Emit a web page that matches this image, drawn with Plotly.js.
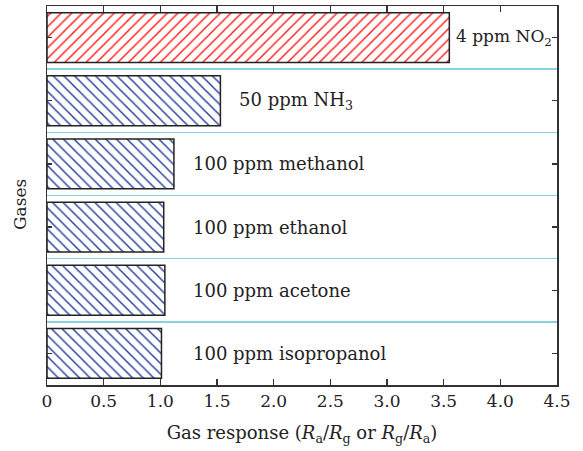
<!DOCTYPE html>
<html>
<head>
<meta charset="utf-8">
<script src="https://cdn.plot.ly/plotly-3.0.1.min.js"></script>
<style>html,body{margin:0;padding:0;background:#fff;}#chart{width:583px;height:451px;}</style>
</head>
<body>
<div id="chart"></div>
<script>
// Data (top to bottom)
const gases = ["NO2", "NH3", "methanol", "ethanol", "acetone", "isopropanol"];
const labels = ["4 ppm NO<sub>2</sub>", "50 ppm NH<sub>3</sub>", "100 ppm methanol", "100 ppm ethanol", "100 ppm acetone", "100 ppm isopropanol"];
const response = [3.55, 1.53, 1.12, 1.03, 1.04, 1.01];
const xTickVals = [0, 0.5, 1, 1.5, 2, 2.5, 3, 3.5, 4, 4.5];
const xTickText = ["0", "0.5", "1.0", "1.5", "2.0", "2.5", "3.0", "3.5", "4.0", "4.5"];

const labelX = [3.595, 1.677, 1.273, 1.273, 1.27, 1.27];
const labelSize = [17, 18, 18, 18, 18, 18];
const patShape = gases.map((g, i) => i === 0 ? "/" : "\\");
const patColor = gases.map((g, i) => i === 0 ? "#ff2020" : "#2a429c");

const serif = "DejaVu Serif, Liberation Serif, serif";
const txt = "#222";

const traces = [
  {
    type: "bar",
    orientation: "h",
    y: gases,
    x: response,
    width: 0.79,
    marker: {
      color: "white",
      line: {color: "#222", width: 1.5},
      pattern: {shape: patShape, fgcolor: patColor, bgcolor: "white", size: 7.5, solidity: 0.2}
    },
    hoverinfo: "none",
    xaxis: "x", yaxis: "y"
  },
  {
    type: "scatter", mode: "markers",
    x: [0], y: [0], opacity: 0, showlegend: false, hoverinfo: "none",
    xaxis: "x", yaxis: "y2"
  }
];

const annotations = gases.map((g, i) => ({
  x: labelX[i], y: g, xref: "x", yref: "y",
  text: labels[i], showarrow: false, xanchor: "left", yanchor: "middle",
  font: {family: serif, size: labelSize[i], color: txt}
}));
annotations.push({
  x: 0, xref: "paper", xshift: -27, y: 0.475, yref: "paper",
  text: "Gases", textangle: -90, showarrow: false, xanchor: "center", yanchor: "middle",
  font: {family: serif, size: 17, color: txt}
});

const layout = {
  width: 583, height: 451,
  margin: {l: 47, r: 26, t: 6, b: 66},
  paper_bgcolor: "white", plot_bgcolor: "white",
  showlegend: false,
  font: {family: serif, size: 17, color: txt},
  xaxis: {
    range: [0, 4.5],
    tickvals: xTickVals, ticktext: xTickText,
    ticks: "inside", ticklen: 6, tickwidth: 1.2, tickcolor: "#333",
    showline: true, linecolor: "#333", linewidth: 1.5, mirror: "ticks",
    showgrid: false, zeroline: false,
    tickfont: {family: serif, size: 17, color: txt},
    title: {text: "Gas response (<i>R</i><sub>a</sub>/<i>R</i><sub>g</sub> or <i>R</i><sub>g</sub>/<i>R</i><sub>a</sub>)", font: {family: serif, size: 18, color: txt}, standoff: 16}
  },
  yaxis: {
    type: "category",
    categoryorder: "array", categoryarray: gases,
    range: [5.5, -0.5],
    tickson: "boundaries",
    showgrid: true, gridcolor: "#86d3df", gridwidth: 1.5,
    ticks: "", showticklabels: false,
    showline: true, linecolor: "#333", linewidth: 1.5, mirror: true,
    zeroline: false
  },
  yaxis2: {
    overlaying: "y",
    range: [5.5, -0.5],
    tickvals: [0, 1, 2, 3, 4, 5],
    ticks: "inside", ticklen: 5, tickwidth: 1.2, tickcolor: "#333",
    mirror: "ticks", showline: false,
    showticklabels: false, showgrid: false, zeroline: false
  },
  annotations: annotations
};

Plotly.newPlot("chart", traces, layout, {displayModeBar: false, staticPlot: true});
</script>
</body>
</html>
